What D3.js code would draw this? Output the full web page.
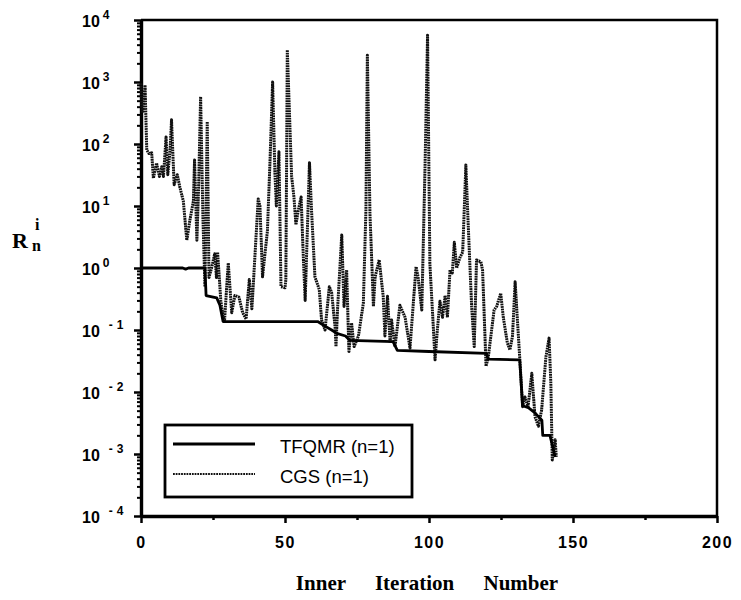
<!DOCTYPE html>
<html>
<head>
<meta charset="utf-8">
<script src="https://cdn.jsdelivr.net/npm/d3@7"></script>
<style>
  body { margin: 0; background: #fff; }
  svg { display: block; }
</style>
</head>
<body>
<div id="chart"></div>
<script>
// residual vs. inner iteration as [iteration, value]
const tfqmr = [
    [0, 1.0], [14.5, 1.0], [15.5, 0.96], [16.5, 1.0], [22.2, 1.0], [22.6, 0.36],
    [26.3, 0.33], [27.4, 0.25], [28.5, 0.137], [61.5, 0.136], [63.3, 0.12],
    [66.2, 0.1], [68, 0.088], [71, 0.08], [72.5, 0.068], [87.5, 0.065],
    [89, 0.047], [100, 0.045], [120, 0.042], [120.5, 0.034], [131.5, 0.033],
    [132.5, 0.006], [134.5, 0.0056], [136.8, 0.0046], [138, 0.004],
    [139.2, 0.0035], [139.5, 0.002], [142, 0.002], [143.8, 0.0009]
];

const cgs = [
    [0, 950], [0.3, 400], [0.6, 320], [1.4, 890], [2.0, 80], [2.8, 70], [3.7, 72],
    [4.3, 28], [5.4, 49], [6.4, 30], [7.2, 43], [7.8, 30], [8.7, 130], [9.3, 32],
    [10.1, 80], [10.6, 245], [11.5, 22], [12.6, 32], [13.5, 20], [14.7, 12],
    [15.9, 2.8], [17, 6], [18.2, 12], [18.6, 55], [19.4, 2.8], [20.0, 20],
    [20.7, 580], [21.5, 6.5], [22.2, 0.5], [23.0, 230], [23.6, 0.7], [24.5, 1.0],
    [25.6, 1.7], [26.2, 0.7], [26.6, 1.8], [27.7, 0.3], [28.5, 0.16], [29.0, 0.14],
    [30.3, 1.2], [31.5, 0.19], [32.6, 0.36], [34, 0.34], [35.3, 0.19], [36.5, 0.15],
    [37.6, 0.65], [38.5, 0.22], [40.7, 13], [41.3, 10], [42.2, 0.72], [43.9, 4],
    [44.8, 55], [45.7, 1000], [46.5, 34], [47.0, 10], [47.9, 75], [48.6, 0.5],
    [50.0, 0.48], [50.3, 0.65], [50.8, 3300], [52.3, 30], [53.1, 14], [53.8, 5],
    [54.5, 8], [55.6, 14], [56.4, 1.35], [57, 0.3], [58.5, 50], [59.2, 8.7],
    [60.4, 0.72], [61.9, 0.45], [62.7, 0.145], [63.9, 0.1], [65.4, 0.5], [66.2, 0.4],
    [67.4, 0.11], [67.7, 0.054], [68.2, 0.2], [69.7, 3.4], [70.5, 0.24], [71.4, 0.93],
    [72.2, 0.045], [73.1, 0.13], [74.0, 0.054], [75.5, 0.08], [77.2, 0.27],
    [78.1, 8.7], [78.6, 2700], [79.5, 7.5], [80.7, 0.24], [81.3, 0.72], [82.7, 1.35],
    [84.1, 0.35], [84.7, 0.08], [85.6, 0.35], [86.5, 0.062], [87.0, 0.145],
    [88.2, 0.054], [89.9, 0.25], [91.7, 0.16], [93.4, 0.051], [95.5, 1.05],
    [96.2, 0.72], [97.5, 0.21], [98.6, 38], [99.5, 5700], [100.3, 1.2],
    [102.1, 0.033], [102.9, 0.1], [103.8, 0.29], [104.7, 0.16], [105.6, 0.36],
    [106.4, 0.16], [107.3, 0.93], [108.1, 0.83], [108.8, 2.6], [109.6, 1.0],
    [110.8, 1.5], [111.7, 1.8], [112.8, 46], [113.6, 5.2], [114.8, 0.24],
    [115.7, 0.054], [116.5, 1.35], [118.0, 1.26], [118.6, 0.93], [119.8, 0.026],
    [120.6, 0.037], [122.6, 0.21], [123.5, 0.24], [124.9, 0.39], [125.8, 0.16],
    [127.2, 0.062], [128.1, 0.048], [129.0, 0.08], [129.9, 0.6], [130.7, 0.145],
    [131.6, 0.03], [132.5, 0.0058], [133.3, 0.0083], [134.4, 0.0058], [135.7, 0.02],
    [136.8, 0.004], [138.0, 0.0028], [139.1, 0.0051], [140.6, 0.037], [141.7, 0.074],
    [142.3, 0.014], [142.8, 0.0008], [143.8, 0.0017], [144.2, 0.0009]
];

const xTicks = [0, 50, 100, 150, 200];
const xMinorTicks = [25, 75, 125, 175];
const yExponents = [4, 3, 2, 1, 0, -1, -2, -3, -4];
const legendLabels = ['TFQMR (n=1)', 'CGS (n=1)'];
const xTitleWords = ['Inner', 'Iteration', 'Number'];

const width = 741;
const height = 600;
const margin = { top: 20, right: 24, bottom: 84, left: 141 };
const plotW = width - margin.left - margin.right;   // 576
const plotH = height - margin.top - margin.bottom;  // 496

const x = d3.scaleLinear().domain([0, 200]).range([0, plotW]);
const y = d3.scaleLog().domain([1e-4, 1e4]).range([plotH, 0]);

const svg = d3.select('#chart')
    .append('svg')
    .attr('width', width)
    .attr('height', height);

const g = svg.append('g')
    .attr('transform', `translate(${margin.left},${margin.top})`);

// frame: top and right
g.append('path')
    .attr('d', `M0,0H${plotW}V${plotH}`)
    .attr('fill', 'none')
    .attr('stroke', '#000')
    .attr('stroke-width', 2.5);

// minor log ticks on the left
const yMinor = [];
for (let e = -4; e < 4; e++) {
    for (let m = 2; m <= 9; m++) yMinor.push(m * Math.pow(10, e));
}

g.append('g')
    .attr('transform', 'translate(1,0)')
    .call(d3.axisLeft(y).tickValues(yMinor).tickSize(5).tickSizeOuter(0).tickFormat(''))
    .call(a => a.select('.domain').remove())
    .selectAll('line').attr('stroke-width', 2);

const yAxis = g.append('g')
    .call(d3.axisLeft(y)
        .tickValues(yExponents.map(e => Math.pow(10, e)))
        .tickSize(7)
        .tickSizeOuter(0)
        .tickFormat(''));
yAxis.select('.domain').attr('stroke-width', 3.4);
yAxis.selectAll('line').attr('stroke-width', 2.5);

// y tick labels: "10" with a raised exponent
const yLab = g.append('g')
    .attr('font-family', '"Liberation Sans", Arial, sans-serif')
    .attr('font-weight', 'bold')
    .attr('fill', '#000');

yExponents.forEach(e => {
    const t = yLab.append('text')
        .attr('x', 82 - margin.left)
        .attr('y', y(Math.pow(10, e)) + 7)
        .attr('font-size', 16);
    t.append('tspan').text('10');
    if (e < 0) {
        t.append('tspan').attr('dx', 9).attr('dy', -8).attr('font-size', 12).text('-');
        t.append('tspan').attr('dx', 4).attr('font-size', 12).text(String(-e));
    } else {
        t.append('tspan').attr('dx', 3).attr('dy', -8).attr('font-size', 12).text(String(e));
    }
});

// x axis
g.append('g')
    .attr('transform', `translate(0,${plotH})`)
    .call(d3.axisBottom(x).tickValues(xMinorTicks).tickSize(4).tickSizeOuter(0).tickFormat(''))
    .call(a => a.select('.domain').remove())
    .selectAll('line').attr('stroke-width', 2.5);

const xAxis = g.append('g')
    .attr('transform', `translate(0,${plotH})`)
    .call(d3.axisBottom(x).tickValues(xTicks).tickSize(7).tickSizeOuter(0).tickPadding(14));
xAxis.select('.domain').attr('stroke-width', 3.4);
xAxis.selectAll('line').attr('stroke-width', 2.5);
xAxis.selectAll('text')
    .attr('font-family', '"Liberation Sans", Arial, sans-serif')
    .attr('font-weight', 'bold')
    .attr('font-size', 16)
    .attr('letter-spacing', 1.5)
    .attr('fill', '#000');

// series
const line = d3.line()
    .x(d => x(d[0]))
    .y(d => y(d[1]));

g.append('path')
    .datum(cgs)
    .attr('d', line)
    .attr('fill', 'none')
    .attr('stroke', '#111')
    .attr('stroke-width', 3)
    .attr('stroke-dasharray', '1.8,0.7')
    .attr('stroke-linejoin', 'round');

g.append('path')
    .datum(tfqmr)
    .attr('d', line)
    .attr('fill', 'none')
    .attr('stroke', '#000')
    .attr('stroke-width', 2.8)
    .attr('stroke-linejoin', 'round');

// legend
const legend = g.append('g')
    .attr('transform', `translate(${165 - margin.left},${425 - margin.top})`);

legend.append('rect')
    .attr('width', 247)
    .attr('height', 72)
    .attr('fill', '#fff')
    .attr('stroke', '#000')
    .attr('stroke-width', 2.8);

legendLabels.forEach((label, i) => {
    const ly = 19 + i * 30;
    legend.append('line')
        .attr('x1', 8).attr('x2', 90)
        .attr('y1', ly).attr('y2', ly)
        .attr('stroke', i === 0 ? '#000' : '#111')
        .attr('stroke-width', i === 0 ? 2.8 : 2.2)
        .attr('stroke-dasharray', i === 0 ? null : '1.8,0.9');
    legend.append('text')
        .attr('x', 115)
        .attr('y', ly + 9)
        .attr('font-family', '"Liberation Sans", Arial, sans-serif')
        .attr('font-size', 18.5)
        .attr('fill', '#000')
        .text(label);
});

// x title
svg.append('text')
    .attr('x', margin.left + x(100) - 2)
    .attr('y', 590)
    .attr('text-anchor', 'middle')
    .attr('font-family', '"Liberation Serif", "Times New Roman", serif')
    .attr('font-weight', 'bold')
    .attr('font-size', 21)
    .attr('word-spacing', 24)
    .text(xTitleWords.join(' '));

// y title: R with sub n and sup i
const yt = svg.append('text')
    .attr('x', 12)
    .attr('y', 248)
    .attr('font-family', '"Liberation Serif", "Times New Roman", serif')
    .attr('font-weight', 'bold')
    .attr('font-size', 22);
yt.append('tspan').text('R');
yt.append('tspan').attr('x', 35).attr('y', 230).attr('font-size', 16).text('i');
yt.append('tspan').attr('x', 32).attr('y', 251).attr('font-size', 16).text('n');
</script>
</body>
</html>
